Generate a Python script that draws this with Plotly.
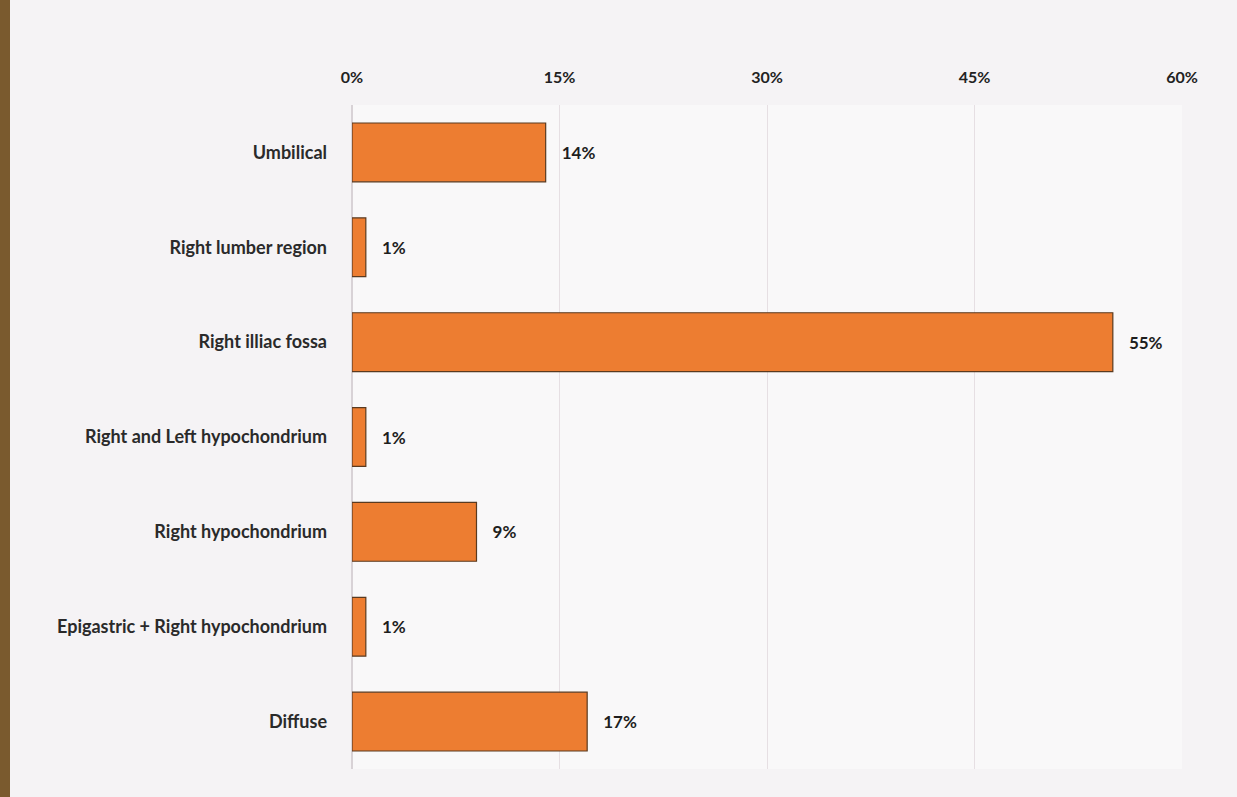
import plotly.graph_objects as go

# Site of abdominal pain, share of patients (%)
categories = [
    "Umbilical",
    "Right lumber region",
    "Right illiac fossa",
    "Right and Left hypochondrium",
    "Right hypochondrium",
    "Epigastric + Right hypochondrium",
    "Diffuse",
]
percent = [14, 1, 55, 1, 9, 1, 17]
tick_values = [0, 15, 30, 45, 60]
tick_labels = ["0%", "15%", "30%", "45%", "60%"]

fig = go.Figure(
    go.Bar(
        x=percent,
        y=categories,
        orientation="h",
        width=0.62,
        marker=dict(color="#ED7D31", line=dict(color="#5a3a20", width=1.2)),
        texttemplate="\u00a0\u00a0\u00a0<b>%{x}%</b>",
        textposition="outside",
        textfont=dict(family="Lato", size=17, color="#1e1e1e"),
        cliponaxis=False,
    )
)

fig.update_layout(
    width=1237,
    height=797,
    paper_bgcolor="#f5f3f5",
    plot_bgcolor="#f9f8f9",
    margin=dict(l=352, r=55, t=105, b=28),
    showlegend=False,
    font=dict(family="Lato", color="#222"),
)

fig.update_xaxes(
    side="top",
    range=[0, 60],
    tickvals=tick_values,
    ticktext=[f"<b>{t}</b>" for t in tick_labels],
    tickfont=dict(family="Lato", size=16, color="#222"),
    showgrid=True,
    gridcolor="#e6dfe3",
    gridwidth=1,
    zeroline=True,
    zerolinecolor="#d8d2d6",
    showline=False,
    ticks="",
    ticklabelstandoff=18,
)

fig.update_yaxes(
    categoryorder="array",
    categoryarray=categories,
    autorange="reversed",
    tickvals=categories,
    ticktext=[f"<b>{c}</b>" for c in categories],
    tickfont=dict(family="Lato", size=18, color="#2a2a2a"),
    showgrid=False,
    ticks="",
    ticklabelstandoff=24,
)

# Page binding edge on the left
fig.add_shape(
    type="rect", xref="paper", yref="paper",
    x0=-352 / 830, x1=-342 / 830, y0=-0.05, y1=1.2,
    fillcolor="#7a5a2e", line_width=0, layer="above",
)

fig.write_html("out.html")
